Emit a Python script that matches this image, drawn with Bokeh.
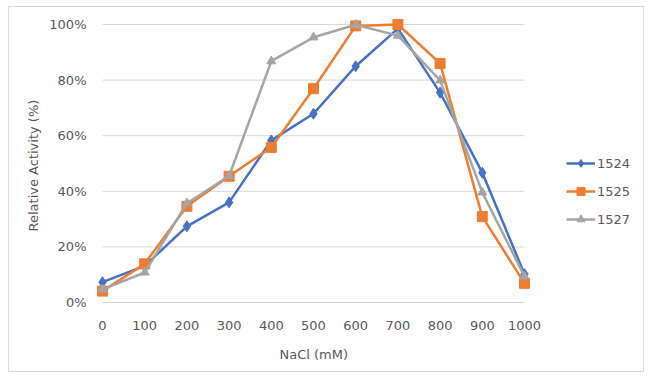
from bokeh.plotting import figure
from bokeh.models import Range1d, FixedTicker, PrintfTickFormatter, Legend, LegendItem, Title
from bokeh.embed import file_html
from bokeh.resources import INLINE

# ---- data ----
nacl = [0, 100, 200, 300, 400, 500, 600, 700, 800, 900, 1000]
s1524 = [7.3, 13.2, 27.4, 36.0, 58.3, 67.9, 85.0, 98.5, 75.5, 46.7, 10.2]
s1525 = [4.1, 13.9, 34.6, 45.4, 55.8, 76.9, 99.5, 100.0, 86.0, 30.9, 6.9]
s1527 = [4.7, 10.8, 35.7, 45.5, 86.8, 95.4, 99.9, 96.0, 79.9, 39.6, 9.4]
x_ticks = [0, 100, 200, 300, 400, 500, 600, 700, 800, 900, 1000]
y_ticks = [0, 20, 40, 60, 80, 100]
series_names = ["1524", "1525", "1527"]

# ---- layout ----
FONT = "DejaVu Sans"
TXT = "#595959"
GRID = "#d9d9d9"
pad_l = 8
pad_r = 116   # frame extends right to host the legend
pad_v = 8
xscale = 422 / 1000.0
yscale = 278 / 100.0

p = figure(width=636, height=366, output_backend="svg", toolbar_location=None,
           x_range=Range1d(-pad_l / xscale, 1000 + pad_r / xscale),
           y_range=Range1d(-pad_v / yscale, 100 + pad_v / yscale),
           min_border_left=85, min_border_right=5,
           min_border_top=9, min_border_bottom=63)
p.margin = (6, 0, 0, 8)
p.outline_line_color = None
p.background_fill_color = "white"
p.border_fill_color = "white"
p.xgrid.visible = False
p.ygrid.visible = False
p.styles = {"border": "1px solid #d9d9d9"}

# grid lines spanning only the category range
p.segment(x0=[x_ticks[0]] * len(y_ticks), x1=[x_ticks[-1]] * len(y_ticks),
          y0=y_ticks, y1=y_ticks, line_color=GRID, line_width=1)

colors = ["#4472C4", "#ED7D31", "#A5A5A5"]
# 1524
l1 = p.line(nacl, s1524, line_color=colors[0], line_width=2.5)
m1 = p.scatter(nacl, s1524, marker="diamond", size=11, fill_color=colors[0], line_color=colors[0])
# 1525
l2 = p.line(nacl, s1525, line_color=colors[1], line_width=2.5)
m2 = p.scatter(nacl, s1525, marker="square", size=10, fill_color=colors[1], line_color=colors[1])
# 1527
l3 = p.line(nacl, s1527, line_color=colors[2], line_width=2.5)
m3 = p.scatter(nacl, s1527, marker="triangle", size=9, fill_color=colors[2], line_color=colors[2])

items = [LegendItem(label=series_names[0], renderers=[l1, m1]),
         LegendItem(label=series_names[1], renderers=[l2, m2]),
         LegendItem(label=series_names[2], renderers=[l3, m3])]
legend = Legend(items=items, location=(472, 81), orientation="vertical",
                glyph_width=29, glyph_height=20, label_height=20,
                label_standoff=2, spacing=8, padding=0, margin=0,
                border_line_color=None, background_fill_alpha=0,
                label_text_font=FONT, label_text_font_size="13px",
                label_text_color=TXT)
p.add_layout(legend, "center")

# axes
for ax in (p.xaxis[0], p.yaxis[0]):
    ax.axis_line_color = None
    ax.major_tick_line_color = None
    ax.minor_tick_line_color = None
    ax.major_label_text_font = FONT
    ax.major_label_text_font_size = "13px"
    ax.major_label_text_color = TXT
    ax.axis_label_text_font = FONT
    ax.axis_label_text_font_size = "13px"
    ax.axis_label_text_color = TXT
    ax.axis_label_text_font_style = "normal"

p.xaxis.ticker = FixedTicker(ticks=x_ticks)
p.xaxis.major_label_standoff = 4

# x-axis title centred under the 0..1000 category span (frame is wider for legend)
xtitle = Title(text="NaCl (mM)", align="left", offset=185, standoff=24,
               text_font=FONT, text_font_size="13px", text_color=TXT,
               text_font_style="normal")
p.add_layout(xtitle, "below")

p.yaxis.ticker = FixedTicker(ticks=y_ticks)
p.yaxis.formatter = PrintfTickFormatter(format="%d%%")
p.yaxis.major_label_standoff = 2
p.yaxis.axis_label = "Relative Activity  (%)"
p.yaxis.axis_label_standoff = 5

open("out.html", "w").write(file_html(p, INLINE))
